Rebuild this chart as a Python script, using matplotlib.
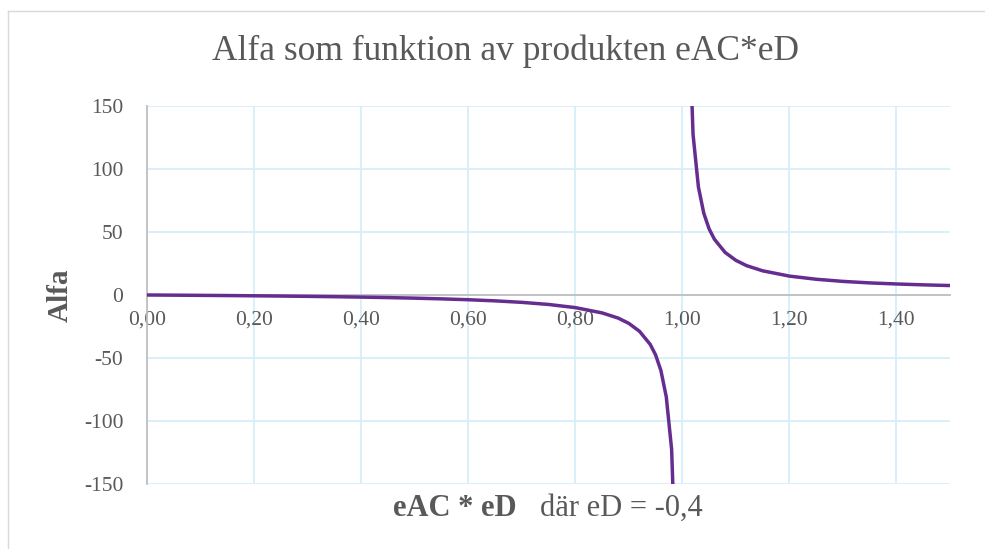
import matplotlib.pyplot as plt
import numpy as np
from matplotlib.lines import Line2D

# eAC*eD values and alfa (gap at 1,00)
x_vals = [0.00, 0.05, 0.10, 0.15, 0.20, 0.25, 0.30, 0.35, 0.40, 0.45, 0.50,
          0.55, 0.60, 0.65, 0.70, 0.75, 0.80, 0.85, 0.88, 0.90, 0.92, 0.94,
          0.95, 0.96, 0.97, 0.98, 0.99, 1.00,
          1.01, 1.02, 1.03, 1.04, 1.05, 1.06, 1.08, 1.10, 1.12, 1.15, 1.20,
          1.25, 1.30, 1.35, 1.40, 1.45, 1.50]
alfa = [0.0, -0.13, -0.28, -0.44, -0.63, -0.83, -1.07, -1.35, -1.67, -2.05, -2.5,
        -3.06, -3.75, -4.64, -5.83, -7.5, -10.0, -14.2, -18.3, -22.5, -28.8, -39.2,
        -47.5, -60.0, -80.8, -122.5, -247.5, np.nan,
        252.5, 127.5, 85.8, 65.0, 52.5, 44.2, 33.75, 27.5, 23.3, 19.2, 15.0,
        12.5, 10.8, 9.6, 8.75, 8.06, 7.5]

y_ticks = [-150, -100, -50, 0, 50, 100, 150]
x_ticks = [0.0, 0.2, 0.4, 0.6, 0.8, 1.0, 1.2, 1.4]

plt.rcParams['font.family'] = ['Liberation Serif', 'DejaVu Serif']
plt.rcParams['axes.unicode_minus'] = False
grey = '#595959'
grid_col = '#D5EFFA'

fig = plt.figure(figsize=(9.85, 5.49), dpi=100)
ax = fig.add_axes([147/985, 1 - 484/549, (950-147)/985, (484-106)/549])

ax.plot(x_vals, alfa, color='#662D91', lw=2.5, solid_capstyle='butt', zorder=3)

ax.set_xlim(0, 1.5)
ax.set_ylim(-150, 150)
ax.set_yticks(y_ticks)
ax.set_xticks(x_ticks)
ax.set_xticklabels([f'{t:.2f}'.replace('.', ',') for t in x_ticks])
ax.set_yticklabels([str(t) for t in y_ticks])
ax.grid(True, color=grid_col, lw=1.3, zorder=0)
ax.tick_params(length=0, colors=grey, labelsize=15.5)
ax.tick_params(axis='y', pad=17)
ax.tick_params(axis='x', pad=11)

for s in ['top', 'right']:
    ax.spines[s].set_visible(False)
ax.spines['bottom'].set_position(('data', 0))
ax.spines['bottom'].set_color('#BFBFBF')
ax.spines['bottom'].set_linewidth(1.3)
ax.spines['left'].set_color('#BFBFBF')
ax.spines['left'].set_linewidth(1.3)
ax.spines['bottom'].set_zorder(2)

fig.text(505/985, 1 - 51/549, 'Alfa som funktion av produkten eAC*eD',
         ha='center', va='center', fontsize=25.5, color=grey)
fig.text(60/985, 1 - 295/549, 'Alfa', rotation=90, ha='center', va='center',
         fontsize=21, fontweight='bold', color=grey)
fig.text(517/985, 1 - 508/549, 'eAC * eD', ha='right', va='center',
         fontsize=22, fontweight='bold', color=grey)
fig.text(540/985, 1 - 508/549, 'där eD = -0,4', ha='left', va='center',
         fontsize=22, color=grey)

# chart frame edges
fig.add_artist(Line2D([8/985, 1], [1 - 11/549, 1 - 11/549], color='#D9D9D9', lw=1))
fig.add_artist(Line2D([8/985, 8/985], [0, 1 - 11/549], color='#D9D9D9', lw=1))

fig.savefig('out.png', dpi=100)
